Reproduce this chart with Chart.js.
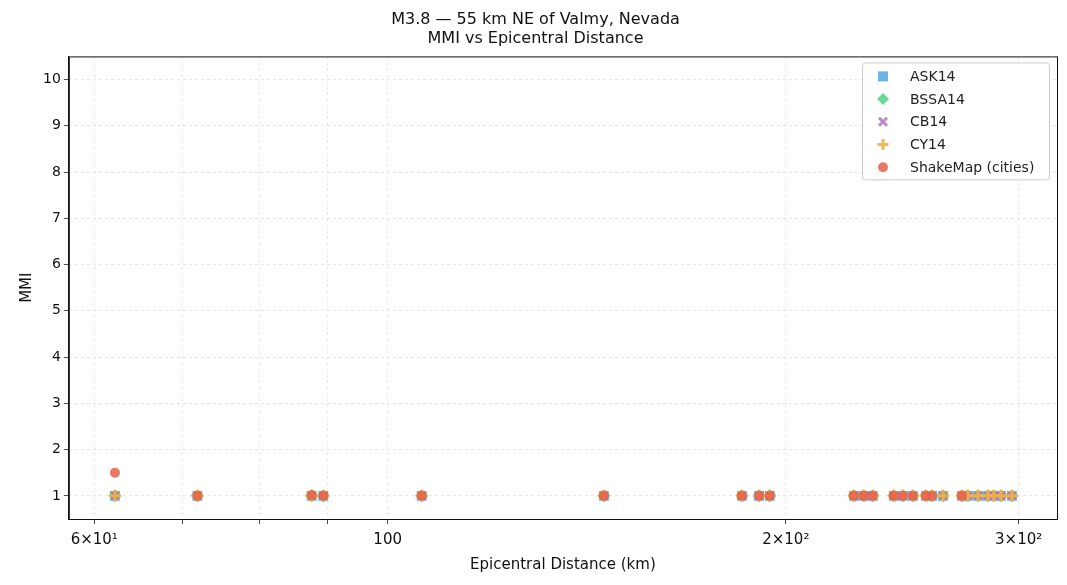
<!DOCTYPE html>
<html>
<head>
<meta charset="utf-8">
<script src="https://cdn.jsdelivr.net/npm/chart.js@4.4.1/dist/chart.umd.min.js"></script>
<style>
  body { margin: 0; background: #fff; }
  canvas { display: block; }
</style>
</head>
<body>
<canvas id="c" width="1067" height="585"></canvas>
<script>
// distances (km) where GMPE predictions were evaluated
const distances = [62.2, 71.8, 87.6, 89.4, 106.1, 145.7, 185.3, 190.9, 194.5,
  225.2, 229.1, 232.7, 241.4, 245.2, 249.5, 255.3, 258.0, 263.0,
  271.8, 274.6, 279.5, 284.4, 287.3, 290.9, 296.5];
const ask14  = distances.map(() => 1);
const bssa14 = distances.map(() => 1);
const cb14   = distances.map(() => 1);
const cy14   = distances.map(() => 1);

// ShakeMap city observations
const cityDist = [62.2, 71.8, 87.6, 89.4, 106.1, 145.7, 185.3, 190.9, 194.5,
  225.2, 229.1, 232.7, 241.4, 245.2, 249.5, 255.3, 258.0, 271.8];
const cityMmi  = [1.5, 1, 1.02, 1, 1, 1, 1, 1, 1,
  1, 1, 1, 1, 1, 1, 1, 1, 1];

const xTicks = [60, 70, 80, 90, 100, 200, 300];
const xLabels = { 60: "6×10¹", 100: "100", 200: "2×10²", 300: "3×10²" };
const yTicks = [1, 2, 3, 4, 5, 6, 7, 8, 9, 10];

const pts = (xs, ys) => xs.map((x, i) => ({ x, y: ys[i] }));

const series = [
  { label: "ASK14",  data: pts(distances, ask14),  color: "rgba(93,173,226,0.9)",  style: "rect",     r: 7 },
  { label: "BSSA14", data: pts(distances, bssa14), color: "rgba(88,214,141,0.9)",  style: "rectRot",  r: 6.5 },
  { label: "CB14",   data: pts(distances, cb14),   color: "rgba(175,122,197,0.9)", style: "crossRot", r: 5 },
  { label: "CY14",   data: pts(distances, cy14),   color: "rgba(245,176,65,0.9)",  style: "cross",    r: 6 },
  { label: "ShakeMap (cities)", data: pts(cityDist, cityMmi), color: "rgba(231,96,76,0.85)", style: "circle", r: 5 }
];

// legend drawn inside the plot, top right
const boxLegend = {
  id: "boxLegend",
  afterDraw(chart) {
    const ctx = chart.ctx, a = chart.chartArea;
    const w = 187, h = 117, x0 = a.right - w - 8, y0 = a.top + 6;
    ctx.save();
    ctx.fillStyle = "rgba(255,255,255,0.85)";
    ctx.strokeStyle = "#ccc";
    ctx.lineWidth = 1;
    ctx.beginPath();
    ctx.roundRect(x0 + 0.5, y0 + 0.5, w, h, 3);
    ctx.fill(); ctx.stroke();
    ctx.font = "14px 'DejaVu Sans'";
    ctx.textBaseline = "middle";
    series.forEach((s, i) => {
      const cx = x0 + 21, cy = y0 + 14 + i * 22.7;
      ctx.fillStyle = s.color; ctx.strokeStyle = s.color;
      ctx.lineWidth = 3;
      ctx.beginPath();
      if (s.style === "circle") { ctx.arc(cx, cy, 5, 0, 2 * Math.PI); ctx.fill(); }
      else if (s.style === "rect") ctx.fillRect(cx - 5, cy - 5, 10, 10);
      else if (s.style === "rectRot") { ctx.moveTo(cx, cy - 6); ctx.lineTo(cx + 6, cy); ctx.lineTo(cx, cy + 6); ctx.lineTo(cx - 6, cy); ctx.closePath(); ctx.fill(); }
      else if (s.style === "crossRot") { ctx.moveTo(cx - 4, cy - 4); ctx.lineTo(cx + 4, cy + 4); ctx.moveTo(cx + 4, cy - 4); ctx.lineTo(cx - 4, cy + 4); ctx.stroke(); }
      else { ctx.moveTo(cx - 5.5, cy); ctx.lineTo(cx + 5.5, cy); ctx.moveTo(cx, cy - 5.5); ctx.lineTo(cx, cy + 5.5); ctx.stroke(); }
      ctx.fillStyle = "#222";
      ctx.fillText(s.label, x0 + 48, cy + 1);
    });
    ctx.restore();
  }
};

new Chart(document.getElementById("c"), {
  type: "scatter",
  data: {
    datasets: series.map((s, i) => ({
      label: s.label,
      data: s.data,
      order: series.length - 1 - i,
      pointStyle: s.style,
      pointRadius: s.r,
      pointHoverRadius: s.r,
      backgroundColor: s.color,
      borderColor: s.color,
      borderWidth: s.style.startsWith("cross") ? 3 : 0
    }))
  },
  options: {
    responsive: false,
    animation: false,
    layout: { padding: { left: 14, right: 10, top: 0, bottom: 11 } },
    plugins: {
      legend: { display: false },
      tooltip: { enabled: false },
      title: {
        display: true,
        text: ["M3.8 — 55 km NE of Valmy, Nevada", "MMI vs Epicentral Distance"],
        color: "#111",
        font: { family: "DejaVu Sans", size: 16, weight: "normal", lineHeight: 1.2 },
        padding: { top: 10, bottom: 8 }
      }
    },
    scales: {
      x: {
        type: "logarithmic",
        min: 57.4, max: 320.7,
        afterBuildTicks: sc => { sc.ticks = xTicks.map(v => ({ value: v })); },
        ticks: {
          autoSkip: false, maxRotation: 0, color: "#111", padding: 7,
          font: { family: "DejaVu Sans", size: 15 },
          callback: v => xLabels[v] || ""
        },
        grid: { color: "#e2e2e2", lineWidth: 0.8, tickColor: "#222", tickLength: 5 },
        border: { color: "#111", dash: [3, 3] },
        title: { display: true, text: "Epicentral Distance (km)", color: "#111",
          padding: { top: 0, bottom: 0 },
          font: { family: "DejaVu Sans", size: 15 } }
      },
      y: {
        min: 0.5, max: 10.5,
        afterBuildTicks: sc => { sc.ticks = yTicks.map(v => ({ value: v })); },
        ticks: { color: "#111", font: { family: "DejaVu Sans", size: 14 } },
        grid: { color: "#e2e2e2", lineWidth: 0.8, tickColor: "#222", tickLength: 5 },
        border: { color: "#111", dash: [3, 3] },
        title: { display: true, text: "MMI", color: "#111",
          font: { family: "DejaVu Sans", size: 15 } }
      }
    }
  },
  plugins: [boxLegend, {
    id: "frame",
    afterDraw(chart) {
      const ctx = chart.ctx, a = chart.chartArea;
      ctx.save();
      ctx.strokeStyle = "#111"; ctx.lineWidth = 1;
      ctx.setLineDash([]);
      ctx.strokeRect(a.left + 0.5, a.top + 0.5, a.width, a.height);
      ctx.restore();
    }
  }]
});
</script>
</body>
</html>
